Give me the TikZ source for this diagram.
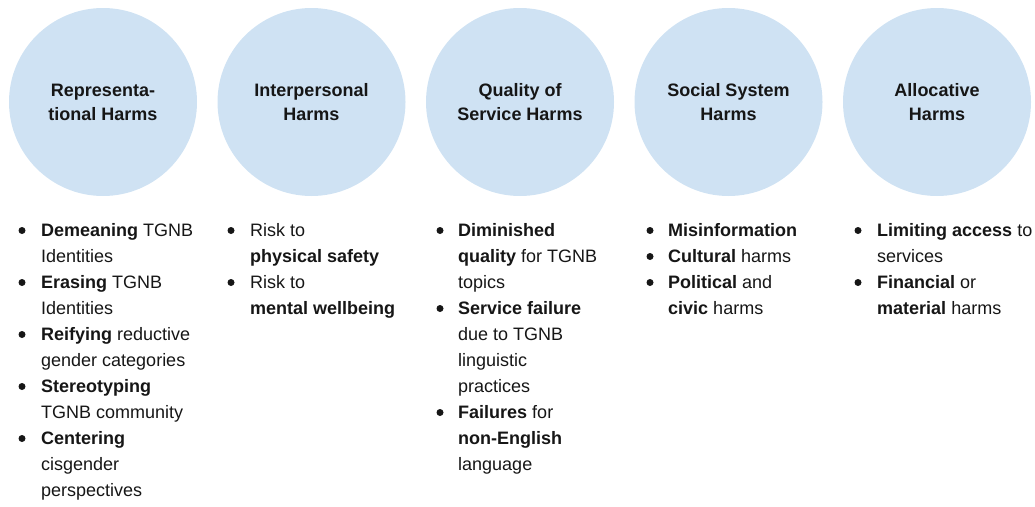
\documentclass[tikz,border=0pt]{standalone}
\usepackage{fontspec}
\setmainfont{Liberation Sans}
\definecolor{circfill}{HTML}{CFE2F3}
\definecolor{ink}{HTML}{161616}
\begin{document}
\begin{tikzpicture}[x=1pt,y=-1pt,
  harm/.style={circle, fill=circfill, minimum size=188pt, inner sep=0pt},
  title/.style={font=\fontsize{18}{24}\selectfont\bfseries, text=ink, anchor=base, inner sep=0pt},
  item/.style={font=\fontsize{18}{26}\selectfont, text=ink, anchor=base west, inner sep=0pt},
  dot/.style={circle, fill=ink, minimum size=7pt, inner sep=0pt}]
\useasboundingbox (0,0) rectangle (1035,506);

% category circles
\node[harm] (c1) at (103,102) {};
\node[harm] (c2) at (311.5,102) {};
\node[harm] (c3) at (520,102) {};
\node[harm] (c4) at (728.5,102) {};
\node[harm] (c5) at (937,102) {};

% circle titles
\node[title] (t1a) at (103,96) {Representa-};
\node[title] (t1b) at (103,120) {tional Harms};
\node[title] (t2a) at (311.5,96) {Interpersonal};
\node[title] (t2b) at (311.5,120) {Harms};
\node[title] (t3a) at (520,96) {Quality of};
\node[title] (t3b) at (520,120) {Service Harms};
\node[title] (t4a) at (728.5,96) {Social System};
\node[title] (t4b) at (728.5,120) {Harms};
\node[title] (t5a) at (937,96) {Allocative};
\node[title] (t5b) at (937,120) {Harms};

% representational harms
\node[dot] (d1a) at (22,230.5) {};
\node[item] (l1a) at (41,236) {\textbf{Demeaning} TGNB};
\node[item] (l1b) at (41,262) {Identities};
\node[dot] (d1b) at (22,282.5) {};
\node[item] (l1c) at (41,288) {\textbf{Erasing} TGNB};
\node[item] (l1d) at (41,314) {Identities};
\node[dot] (d1c) at (22,334.5) {};
\node[item] (l1e) at (41,340) {\textbf{Reifying} reductive};
\node[item] (l1f) at (41,366) {gender categories};
\node[dot] (d1d) at (22,386.5) {};
\node[item] (l1g) at (41,392) {\textbf{Stereotyping}};
\node[item] (l1h) at (41,418) {TGNB community};
\node[dot] (d1e) at (22,438.5) {};
\node[item] (l1i) at (41,444) {\textbf{Centering}};
\node[item] (l1j) at (41,470) {cisgender};
\node[item] (l1k) at (41,496) {perspectives};

% interpersonal harms
\node[dot] (d2a) at (231,230.5) {};
\node[item] (l2a) at (250,236) {Risk to};
\node[item] (l2b) at (250,262) {\textbf{physical safety}};
\node[dot] (d2b) at (231,282.5) {};
\node[item] (l2c) at (250,288) {Risk to};
\node[item] (l2d) at (250,314) {\textbf{mental wellbeing}};

% quality of service harms
\node[dot] (d3a) at (440,230.5) {};
\node[item] (l3a) at (458,236) {\textbf{Diminished}};
\node[item] (l3b) at (458,262) {\textbf{quality} for TGNB};
\node[item] (l3c) at (458,288) {topics};
\node[dot] (d3b) at (440,308.5) {};
\node[item] (l3d) at (458,314) {\textbf{Service failure}};
\node[item] (l3e) at (458,340) {due to TGNB};
\node[item] (l3f) at (458,366) {linguistic};
\node[item] (l3g) at (458,392) {practices};
\node[dot] (d3c) at (440,412.5) {};
\node[item] (l3h) at (458,418) {\textbf{Failures} for};
\node[item] (l3i) at (458,444) {\textbf{non-English}};
\node[item] (l3j) at (458,470) {language};

% social system harms
\node[dot] (d4a) at (650,230.5) {};
\node[item] (l4a) at (668,236) {\textbf{Misinformation}};
\node[dot] (d4b) at (650,256.5) {};
\node[item] (l4b) at (668,262) {\textbf{Cultural} harms};
\node[dot] (d4c) at (650,282.5) {};
\node[item] (l4c) at (668,288) {\textbf{Political} and};
\node[item] (l4d) at (668,314) {\textbf{civic} harms};

% allocative harms
\node[dot] (d5a) at (858,230.5) {};
\node[item] (l5a) at (877,236) {\textbf{Limiting access} to};
\node[item] (l5b) at (877,262) {services};
\node[dot] (d5b) at (858,282.5) {};
\node[item] (l5c) at (877,288) {\textbf{Financial} or};
\node[item] (l5d) at (877,314) {\textbf{material} harms};
\end{tikzpicture}
\end{document}
